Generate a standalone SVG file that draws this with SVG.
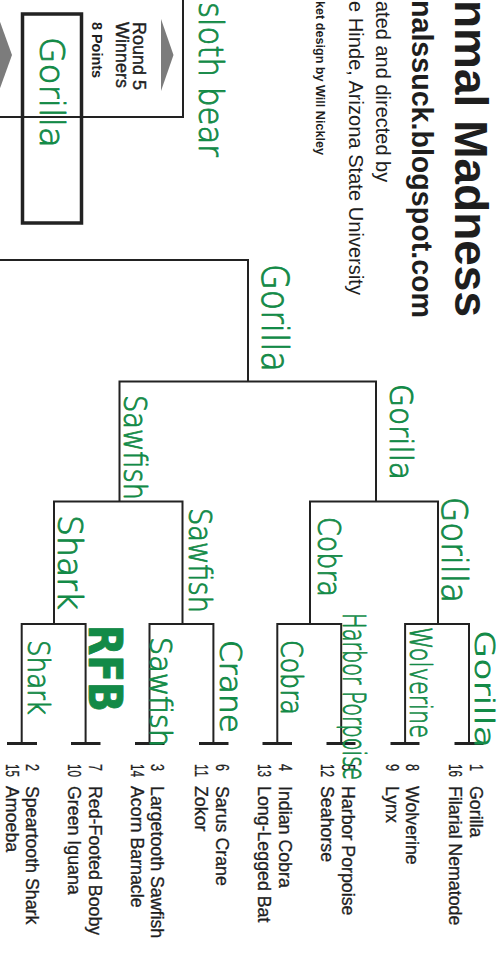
<svg xmlns="http://www.w3.org/2000/svg" width="498" height="961" viewBox="0 0 498 961">
<style>
.lbl{font-family:"Liberation Sans",Arial,sans-serif;font-size:17.8px;fill:#1e1e1e;stroke:#1e1e1e;stroke-width:0.3}
.num{font-family:"Liberation Sans",Arial,sans-serif;font-size:17.8px;fill:#1e1e1e;stroke:#1e1e1e;stroke-width:0.3}
.ttl{font-family:"Liberation Sans",Arial,sans-serif;fill:#1e1e1e}
.hw{font-family:"DejaVu Sans",sans-serif;font-weight:200;fill:#138a47;stroke:#138a47;stroke-width:0.9;stroke-linejoin:round}
.ln{stroke:#222;stroke-width:2;fill:none}
.tk{stroke:#222;stroke-width:3;fill:none}
.tri{fill:#7c7c7c}
</style>
<rect width="498" height="961" fill="#ffffff"/>

<g id="title">
<text class="ttl" transform="rotate(90)" x="0" y="-455" font-size="47" font-weight="bold" textLength="317" lengthAdjust="spacingAndGlyphs">nmal Madness</text>
<text class="ttl" transform="rotate(90)" x="0" y="-412" font-size="29" font-weight="bold" textLength="318" lengthAdjust="spacingAndGlyphs">nalssuck.blogspot.com</text>
<text class="ttl" transform="rotate(90)" x="1" y="-376" font-size="20">ated and directed by</text>
<text class="ttl" transform="rotate(90)" x="1" y="-349" font-size="20" textLength="294" lengthAdjust="spacingAndGlyphs">e Hinde, Arizona State University</text>
<text class="ttl" transform="rotate(90)" x="1" y="-316" font-size="12.7" font-weight="bold" textLength="154" lengthAdjust="spacingAndGlyphs">ket design by Will Nickley</text>
</g>

<g id="round5-box">
<path class="ln" d="M0,117 H183 V0"/>
<polygon class="tri" points="161,19 161,91 173.5,55"/>
<polygon class="tri" points="-1,19 -1,91 12,55"/>
<text class="ttl" transform="rotate(90)" x="22" y="-133" font-size="18" stroke="#1e1e1e" stroke-width="0.4">Round 5</text>
<text class="ttl" transform="rotate(90)" x="22" y="-116" font-size="18" stroke="#1e1e1e" stroke-width="0.4">Winners</text>
<text class="ttl" transform="rotate(90)" x="22" y="-92" font-size="14.4" font-weight="bold">8 Points</text>
<rect x="22.5" y="14" width="59" height="209" fill="none" stroke="#222" stroke-width="3.5"/>
</g>

<g id="connectors">
<path class="tk" d="M7,743.5 H37 M71,743.5 H100.5 M135,743.5 H164.5 M199,743.5 H228.5 M262.5,743.5 H292 M326.5,743.5 H355.5 M390.5,743.5 H419.5 M454.5,743.5 H483.5"/>
<path class="ln" d="M21.7,743 V624 H85.6 V743 M149.5,743 V624 H213.4 V743 M277.3,743 V624 H341.2 V743 M405.1,743 V624 H469 V743"/>
<path class="ln" d="M54,624 V501.5 H182.5 V624 M310,624 V501.5 H438 V624"/>
<path class="ln" d="M119.5,501.5 V381.5 H376 V501.5"/>
<path class="ln" d="M248,381.5 V260 H0"/>
</g>

<g id="seeds">
<g id="seed-1"><text class="num" transform="rotate(90)" x="764" y="-470" textLength="7" lengthAdjust="spacingAndGlyphs">1</text><text class="lbl" transform="rotate(90)" x="786" y="-470">Gorilla</text></g>
<g id="seed-16"><text class="num" transform="rotate(90)" x="764" y="-449" textLength="13" lengthAdjust="spacingAndGlyphs">16</text><text class="lbl" transform="rotate(90)" x="786" y="-449">Filarial Nematode</text></g>
<g id="seed-8"><text class="num" transform="rotate(90)" x="764" y="-406" textLength="7" lengthAdjust="spacingAndGlyphs">8</text><text class="lbl" transform="rotate(90)" x="786" y="-406">Wolverine</text></g>
<g id="seed-9"><text class="num" transform="rotate(90)" x="764" y="-386" textLength="7" lengthAdjust="spacingAndGlyphs">9</text><text class="lbl" transform="rotate(90)" x="786" y="-386">Lynx</text></g>
<g id="seed-5"><text class="num" transform="rotate(90)" x="764" y="-342" textLength="7" lengthAdjust="spacingAndGlyphs">5</text><text class="lbl" transform="rotate(90)" x="786" y="-342">Harbor Porpoise</text></g>
<g id="seed-12"><text class="num" transform="rotate(90)" x="764" y="-321" textLength="13" lengthAdjust="spacingAndGlyphs">12</text><text class="lbl" transform="rotate(90)" x="786" y="-321">Seahorse</text></g>
<g id="seed-4"><text class="num" transform="rotate(90)" x="764" y="-279" textLength="7" lengthAdjust="spacingAndGlyphs">4</text><text class="lbl" transform="rotate(90)" x="786" y="-279">Indian Cobra</text></g>
<g id="seed-13"><text class="num" transform="rotate(90)" x="764" y="-258" textLength="13" lengthAdjust="spacingAndGlyphs">13</text><text class="lbl" transform="rotate(90)" x="786" y="-258">Long-Legged Bat</text></g>
<g id="seed-6"><text class="num" transform="rotate(90)" x="764" y="-216" textLength="7" lengthAdjust="spacingAndGlyphs">6</text><text class="lbl" transform="rotate(90)" x="786" y="-216">Sarus Crane</text></g>
<g id="seed-11"><text class="num" transform="rotate(90)" x="764" y="-195" textLength="13" lengthAdjust="spacingAndGlyphs">11</text><text class="lbl" transform="rotate(90)" x="786" y="-195">Zokor</text></g>
<g id="seed-3"><text class="num" transform="rotate(90)" x="764" y="-151" textLength="7" lengthAdjust="spacingAndGlyphs">3</text><text class="lbl" transform="rotate(90)" x="786" y="-151">Largetooth Sawfish</text></g>
<g id="seed-14"><text class="num" transform="rotate(90)" x="764" y="-131" textLength="13" lengthAdjust="spacingAndGlyphs">14</text><text class="lbl" transform="rotate(90)" x="786" y="-131">Acorn Barnacle</text></g>
<g id="seed-7"><text class="num" transform="rotate(90)" x="764" y="-89" textLength="7" lengthAdjust="spacingAndGlyphs">7</text><text class="lbl" transform="rotate(90)" x="786" y="-89">Red-Footed Booby</text></g>
<g id="seed-10"><text class="num" transform="rotate(90)" x="764" y="-68" textLength="13" lengthAdjust="spacingAndGlyphs">10</text><text class="lbl" transform="rotate(90)" x="786" y="-68">Green Iguana</text></g>
<g id="seed-2"><text class="num" transform="rotate(90)" x="764" y="-26" textLength="7" lengthAdjust="spacingAndGlyphs">2</text><text class="lbl" transform="rotate(90)" x="786" y="-26">Speartooth Shark</text></g>
<g id="seed-15"><text class="num" transform="rotate(90)" x="764" y="-6" textLength="13" lengthAdjust="spacingAndGlyphs">15</text><text class="lbl" transform="rotate(90)" x="786" y="-6">Amoeba</text></g>
</g>

<g id="picks">
<g id="pick-champion"><text class="hw" transform="rotate(90)" x="37" y="-40" font-size="34" textLength="111" lengthAdjust="spacingAndGlyphs">Gorilla</text></g>
<g id="pick-other"><text class="hw" transform="rotate(90)" x="2" y="-199" font-size="34" textLength="155" lengthAdjust="spacingAndGlyphs">sloth bear</text></g>
<g id="pick-final"><text class="hw" transform="rotate(90)" x="264" y="-262" font-size="38" textLength="108" lengthAdjust="spacingAndGlyphs">Gorilla</text></g>
<g id="pick-r4a"><text class="hw" transform="rotate(90)" x="384" y="-390" font-size="32" textLength="96" lengthAdjust="spacingAndGlyphs">Gorilla</text></g>
<g id="pick-r4b"><text class="hw" transform="rotate(90)" x="395" y="-124" font-size="32" textLength="105" lengthAdjust="spacingAndGlyphs">Sawfish</text></g>
<g id="pick-r3a"><text class="hw" transform="rotate(90)" x="497" y="-442" font-size="36" textLength="106" lengthAdjust="spacingAndGlyphs">Gorilla</text></g>
<g id="pick-r3b"><text class="hw" transform="rotate(90)" x="517" y="-318" font-size="32" textLength="80" lengthAdjust="spacingAndGlyphs">Cobra</text></g>
<g id="pick-r3c"><text class="hw" transform="rotate(90)" x="508" y="-189" font-size="32" textLength="105" lengthAdjust="spacingAndGlyphs">Sawfish</text></g>
<g id="pick-r3d"><text class="hw" transform="rotate(90)" x="515" y="-58" font-size="34" textLength="95" lengthAdjust="spacingAndGlyphs">Shark</text></g>
<g id="pick-r2a"><text class="hw" transform="rotate(90)" x="630" y="-475" font-size="26" textLength="118" lengthAdjust="spacingAndGlyphs">Gorilla</text></g>
<g id="pick-r2b"><text class="hw" transform="rotate(90)" x="627" y="-410" font-size="30" textLength="111" lengthAdjust="spacingAndGlyphs">Wolverine</text></g>
<g id="pick-r2c"><text class="hw" transform="rotate(90)" x="613" y="-343" font-size="32" textLength="167" lengthAdjust="spacingAndGlyphs">Harbor Porpoise</text></g>
<g id="pick-r2d"><text class="hw" transform="rotate(90)" x="640" y="-281" font-size="30" textLength="75" lengthAdjust="spacingAndGlyphs">Cobra</text></g>
<g id="pick-r2e"><text class="hw" transform="rotate(90)" x="640" y="-220" font-size="30" textLength="93" lengthAdjust="spacingAndGlyphs">Crane</text></g>
<g id="pick-r2f"><text class="hw" transform="rotate(90)" x="637" y="-150" font-size="30" textLength="110" lengthAdjust="spacingAndGlyphs">Sawfish</text></g>
<g id="pick-r2g"><text class="hw" transform="rotate(90)" x="625" y="-89" font-size="46" style="font-weight:bold" textLength="87" lengthAdjust="spacingAndGlyphs">RFB</text></g>
<g id="pick-r2h"><text class="hw" transform="rotate(90)" x="640" y="-28" font-size="30" textLength="75" lengthAdjust="spacingAndGlyphs">Shark</text></g>
</g>
</svg>
